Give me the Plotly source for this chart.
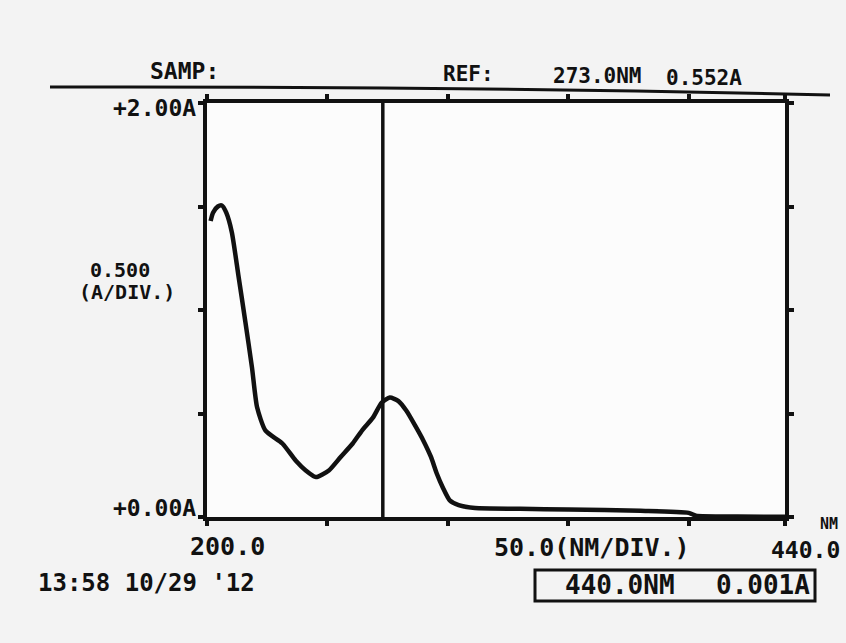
import plotly.graph_objects as go

# ---- data ----
wavelength_nm = [201.5, 202.5, 204.5, 206.2, 208.0, 210.3, 213.0, 215.9, 218.7, 220.8,
                 224.3, 231.3, 236.8, 241.0, 245.2, 250.6, 255.5, 260.5, 264.5, 268.9,
                 272.5, 275.9, 279.5, 282.8, 286.5, 289.8, 293.0, 295.4, 298.0, 300.8,
                 304.5, 311.3, 330.0, 350.0, 380.0, 400.0, 403.0, 420.0, 440.0]
absorbance = [1.43, 1.47, 1.50, 1.505, 1.47, 1.376, 1.17, 0.945, 0.72, 0.53,
              0.417, 0.355, 0.273, 0.225, 0.193, 0.225, 0.29, 0.355, 0.42, 0.48,
              0.552, 0.577, 0.56, 0.513, 0.44, 0.37, 0.29, 0.21, 0.14, 0.08,
              0.057, 0.043, 0.040, 0.036, 0.030, 0.020, 0.006, 0.002, 0.001]
cursor_nm = 273.0
x_ticks = [200, 250, 300, 350, 400, 440]
y_ticks = [0.0, 0.5, 1.0, 1.5, 2.0]

header_samp = "SAMP:"
header_ref = "REF:"
ref_nm = "273.0NM"
ref_abs = "0.552A"
y_top_label = "+2.00A"
y_div_value = "0.500"
y_div_unit = "(A/DIV.)"
y_bottom_label = "+0.00A"
x_left_label = "200.0"
x_div_label = "50.0(NM/DIV.)"
x_right_label = "440.0"
x_unit = "NM"
timestamp = "13:58 10/29 '12"
readout_nm = "440.0NM"
readout_abs = "0.001A"

# ---- layout geometry (pixels) ----
W, H = 846, 643
L, R, T, B = 207, 785, 103, 517


def px(x):
    return (x - L) / (R - L)


def py(y):
    return (B - y) / (B - T)


FONT = "DejaVu Sans Mono"
INK = "#111111"

fig = go.Figure()
fig.add_trace(go.Scatter(x=wavelength_nm, y=absorbance, mode="lines",
                         line=dict(color=INK, width=4.5, shape="spline", smoothing=0.6),
                         hoverinfo="skip", showlegend=False))

axis_common = dict(showgrid=False, zeroline=False, showline=True, linecolor=INK,
                   linewidth=4, mirror="ticks", ticks="outside", ticklen=5,
                   tickwidth=4, tickcolor=INK, showticklabels=False, fixedrange=True)

fig.update_layout(
    width=W, height=H,
    margin=dict(l=L, r=W - R, t=T, b=H - B),
    paper_bgcolor="#f3f3f3",
    plot_bgcolor="#fcfcfc",
    xaxis=dict(range=[200, 440], tickvals=x_ticks, **axis_common),
    yaxis=dict(range=[0, 2.0], tickvals=y_ticks, **axis_common),
    showlegend=False,
)

# cursor line
fig.add_shape(type="line", xref="x", yref="y", x0=cursor_nm, x1=cursor_nm, y0=0, y1=2.0,
              line=dict(color=INK, width=3.5))

# header rule (slightly curved)
fig.add_shape(type="path", xref="paper", yref="paper",
              path=f"M {px(50)} {py(87)} Q {px(440)} {py(86)} {px(830)} {py(95)}",
              line=dict(color=INK, width=3))

# readout box
fig.add_shape(type="rect", xref="paper", yref="paper",
              x0=px(535), x1=px(815), y0=py(601), y1=py(570),
              line=dict(color=INK, width=3), fillcolor="rgba(0,0,0,0)")


def label(text, x, y, xanchor="left", size=23):
    fig.add_annotation(text=f"<b>{text}</b>", xref="paper", yref="paper",
                       x=px(x), y=py(y), xanchor=xanchor, yanchor="middle",
                       showarrow=False, font=dict(family=FONT, size=size, color=INK))


label(header_samp, 148, 71, size=23)
label(header_ref, 441, 74, size=21)
label(ref_nm, 551, 76, size=21)
label(ref_abs, 664, 78, size=21)
label(y_top_label, 198, 108, xanchor="right", size=23)
label(y_bottom_label, 198, 508, xanchor="right", size=23)
label(y_div_value, 120, 270, xanchor="center", size=20)
label(y_div_unit, 127, 292, xanchor="center", size=20)
label(x_left_label, 227, 546, xanchor="center", size=25)
label(x_div_label, 592, 547, xanchor="center", size=25)
label(x_right_label, 842, 550, xanchor="right", size=23)
label(x_unit, 840, 524, xanchor="right", size=15)
label(timestamp, 36, 583, size=24)
label(readout_nm, 620, 585, xanchor="center", size=26)
label(readout_abs, 812, 585, xanchor="right", size=26)

fig.write_html("out.html", config={"displayModeBar": False},
               post_script="document.body.style.margin='0';")
